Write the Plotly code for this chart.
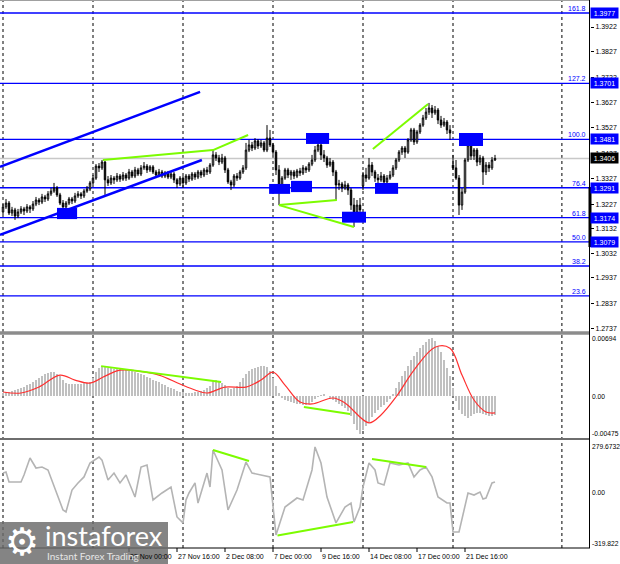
import plotly.graph_objects as go

W, H = 620, 564
PLOT_RIGHT = 590

# ---------------- data ----------------
BAR_INDEX = list(range(165))
OPEN = [1.3196,1.3216,1.3231,1.3192,1.3204,1.3180,1.3196,1.3208,1.3200,1.3216,
        1.3208,1.3227,1.3243,1.3235,1.3255,1.3247,1.3267,1.3278,1.3290,1.3263,
        1.3231,1.3216,1.3231,1.3247,1.3239,1.3259,1.3267,1.3259,1.3278,1.3286,
        1.3310,1.3329,1.3376,1.3369,1.3392,1.3322,1.3310,1.3329,1.3322,1.3337,
        1.3325,1.3341,1.3329,1.3353,1.3337,1.3361,1.3345,1.3369,1.3376,1.3361,
        1.3373,1.3353,1.3341,1.3353,1.3337,1.3349,1.3333,1.3345,1.3322,1.3306,
        1.3329,1.3310,1.3337,1.3325,1.3345,1.3333,1.3353,1.3341,1.3361,1.3353,
        1.3380,1.3420,1.3408,1.3392,1.3408,1.3361,1.3314,1.3302,1.3337,1.3329,
        1.3353,1.3369,1.3439,1.3459,1.3447,1.3475,1.3455,1.3467,1.3439,1.3486,
        1.3459,1.3431,1.3361,1.3298,1.3329,1.3361,1.3341,1.3353,1.3337,1.3357,
        1.3349,1.3369,1.3361,1.3384,1.3400,1.3439,1.3459,1.3420,1.3408,1.3380,
        1.3392,1.3353,1.3302,1.3306,1.3290,1.3302,1.3282,1.3223,1.3196,1.3223,
        1.3298,1.3341,1.3329,1.3380,1.3353,1.3329,1.3322,1.3337,1.3314,1.3329,
        1.3341,1.3369,1.3400,1.3431,1.3447,1.3431,1.3479,1.3518,1.3471,1.3510,
        1.3537,1.3565,1.3588,1.3604,1.3585,1.3596,1.3557,1.3537,1.3549,1.3518,
        1.3380,1.3369,1.3329,1.3223,1.3274,1.3400,1.3459,1.3416,1.3439,1.3392,
        1.3408,1.3353,1.3380,1.3369,1.3400]
HIGH = [1.3227,1.3247,1.3239,1.3216,1.3212,1.3208,1.3219,1.3216,1.3227,1.3223,
        1.3239,1.3255,1.3251,1.3267,1.3263,1.3278,1.3290,1.3310,1.3298,1.3271,
        1.3243,1.3239,1.3255,1.3255,1.3271,1.3278,1.3274,1.3286,1.3298,1.3318,
        1.3341,1.3384,1.3388,1.3400,1.3396,1.3337,1.3341,1.3337,1.3349,1.3345,
        1.3353,1.3349,1.3365,1.3361,1.3373,1.3369,1.3380,1.3392,1.3384,1.3380,
        1.3380,1.3361,1.3365,1.3361,1.3357,1.3357,1.3353,1.3353,1.3329,1.3337,
        1.3337,1.3345,1.3345,1.3353,1.3353,1.3361,1.3361,1.3369,1.3373,1.3388,
        1.3439,1.3431,1.3420,1.3424,1.3416,1.3369,1.3322,1.3345,1.3349,1.3361,
        1.3380,1.3467,1.3479,1.3471,1.3486,1.3482,1.3479,1.3475,1.3537,1.3518,
        1.3467,1.3439,1.3380,1.3337,1.3369,1.3369,1.3361,1.3361,1.3365,1.3369,
        1.3380,1.3376,1.3392,1.3420,1.3455,1.3479,1.3467,1.3439,1.3416,1.3408,
        1.3400,1.3361,1.3322,1.3314,1.3318,1.3310,1.3290,1.3251,1.3243,1.3251,
        1.3353,1.3369,1.3408,1.3392,1.3361,1.3345,1.3353,1.3345,1.3341,1.3357,
        1.3380,1.3408,1.3439,1.3455,1.3455,1.3486,1.3526,1.3526,1.3518,1.3545,
        1.3577,1.3604,1.3624,1.3616,1.3612,1.3604,1.3573,1.3565,1.3557,1.3537,
        1.3420,1.3400,1.3341,1.3290,1.3408,1.3498,1.3479,1.3447,1.3447,1.3420,
        1.3416,1.3392,1.3392,1.3412,1.3420]
LOW = [1.3184,1.3208,1.3184,1.3180,1.3165,1.3172,1.3188,1.3184,1.3192,1.3192,
       1.3200,1.3219,1.3223,1.3227,1.3235,1.3239,1.3259,1.3271,1.3255,1.3223,
       1.3204,1.3208,1.3223,1.3227,1.3231,1.3251,1.3247,1.3251,1.3271,1.3278,
       1.3302,1.3322,1.3353,1.3361,1.3263,1.3298,1.3302,1.3306,1.3314,1.3314,
       1.3318,1.3318,1.3322,1.3329,1.3329,1.3337,1.3337,1.3361,1.3349,1.3353,
       1.3345,1.3329,1.3333,1.3329,1.3329,1.3325,1.3325,1.3310,1.3290,1.3298,
       1.3290,1.3302,1.3314,1.3318,1.3322,1.3325,1.3329,1.3333,1.3341,1.3345,
       1.3373,1.3396,1.3380,1.3384,1.3349,1.3306,1.3282,1.3294,1.3318,1.3322,
       1.3345,1.3361,1.3431,1.3435,1.3439,1.3443,1.3447,1.3431,1.3431,1.3451,
       1.3420,1.3341,1.3223,1.3282,1.3322,1.3329,1.3322,1.3325,1.3329,1.3337,
       1.3341,1.3349,1.3353,1.3376,1.3392,1.3431,1.3400,1.3392,1.3369,1.3373,
       1.3337,1.3243,1.3282,1.3274,1.3282,1.3263,1.3204,1.3137,1.3157,1.3188,
       1.3282,1.3314,1.3322,1.3337,1.3314,1.3306,1.3314,1.3271,1.3302,1.3322,
       1.3333,1.3361,1.3392,1.3420,1.3408,1.3424,1.3471,1.3459,1.3463,1.3502,
       1.3530,1.3557,1.3577,1.3565,1.3577,1.3541,1.3526,1.3530,1.3502,1.3479,
       1.3361,1.3322,1.3184,1.3204,1.3267,1.3392,1.3400,1.3400,1.3376,1.3380,
       1.3302,1.3341,1.3353,1.3361,1.3396]
CLOSE = [1.3216,1.3231,1.3192,1.3204,1.3180,1.3196,1.3208,1.3200,1.3216,1.3208,
         1.3227,1.3243,1.3235,1.3255,1.3247,1.3267,1.3278,1.3290,1.3263,1.3231,
         1.3216,1.3231,1.3247,1.3239,1.3259,1.3267,1.3259,1.3278,1.3286,1.3310,
         1.3329,1.3376,1.3369,1.3392,1.3322,1.3310,1.3329,1.3322,1.3337,1.3325,
         1.3341,1.3329,1.3353,1.3337,1.3361,1.3345,1.3369,1.3376,1.3361,1.3373,
         1.3353,1.3341,1.3353,1.3337,1.3349,1.3333,1.3345,1.3322,1.3306,1.3329,
         1.3310,1.3337,1.3325,1.3345,1.3333,1.3353,1.3341,1.3361,1.3353,1.3380,
         1.3420,1.3408,1.3392,1.3408,1.3361,1.3314,1.3302,1.3337,1.3329,1.3353,
         1.3369,1.3439,1.3459,1.3447,1.3475,1.3455,1.3467,1.3439,1.3486,1.3459,
         1.3431,1.3361,1.3298,1.3329,1.3361,1.3341,1.3353,1.3337,1.3357,1.3349,
         1.3369,1.3361,1.3384,1.3400,1.3439,1.3459,1.3420,1.3408,1.3380,1.3392,
         1.3353,1.3302,1.3306,1.3290,1.3302,1.3282,1.3223,1.3196,1.3223,1.3204,
         1.3341,1.3329,1.3380,1.3353,1.3329,1.3322,1.3337,1.3314,1.3329,1.3341,
         1.3369,1.3400,1.3431,1.3447,1.3431,1.3479,1.3518,1.3471,1.3510,1.3537,
         1.3565,1.3588,1.3604,1.3585,1.3596,1.3557,1.3537,1.3549,1.3518,1.3506,
         1.3369,1.3329,1.3223,1.3274,1.3400,1.3459,1.3416,1.3439,1.3392,1.3408,
         1.3353,1.3380,1.3369,1.3400,1.3406]

MACD_HIST = [0.00036,0.00048,0.00048,0.0006,0.00072,0.00084,0.00096,0.00108,0.00132,0.00144,
             0.00168,0.00192,0.00216,0.0024,0.00264,0.00276,0.00288,0.00288,0.00264,0.0024,
             0.00192,0.00156,0.00144,0.00144,0.00144,0.00144,0.00144,0.00156,0.00156,0.00168,
             0.00216,0.00288,0.00336,0.00348,0.00348,0.00336,0.00336,0.00324,0.00324,0.00324,
             0.00312,0.00312,0.003,0.003,0.00288,0.00276,0.00264,0.00252,0.00228,0.00216,
             0.00192,0.0018,0.00168,0.00144,0.00132,0.00108,0.00096,0.00084,0.0006,0.00048,
             0.00048,0.00036,0.00036,0.00036,0.00048,0.00048,0.0006,0.00072,0.00096,0.0012,
             0.0018,0.00192,0.00168,0.00156,0.00132,0.00096,0.00084,0.00096,0.0012,0.00168,
             0.00216,0.00264,0.003,0.00324,0.00336,0.00348,0.0036,0.0036,0.00348,0.003,
             0.00216,0.0012,0.00036,-0.00024,-0.00048,-0.0006,-0.00072,-0.00084,-0.00096,-0.00096,
             -0.00108,-0.00108,-0.00096,-0.00072,-0.00036,-0.00012,0.00012,0.00024,0.0,-0.00024,
             -0.00048,-0.00072,-0.00096,-0.0012,-0.00144,-0.0018,-0.0024,-0.00336,-0.00408,-0.00456,
             -0.00408,-0.0036,-0.00312,-0.00252,-0.00204,-0.00168,-0.00132,-0.00108,-0.00072,-0.00036,
             0.00024,0.00096,0.00168,0.0024,0.003,0.0036,0.00432,0.0048,0.00528,0.00576,
             0.00612,0.00648,0.00684,0.00694,0.0066,0.006,0.00528,0.00432,0.00336,0.0024,
             0.00096,-0.0006,-0.00168,-0.00216,-0.0024,-0.00264,-0.0024,-0.00216,-0.00204,-0.00204,
             -0.00216,-0.00228,-0.0024,-0.0024,-0.00228]

MACD_SIGNAL_BARS = [0, 6, 12, 19, 24, 29, 34, 39, 45, 52, 59, 64, 68, 74, 81, 86, 90, 94, 99,
                    103, 110, 114, 122, 126, 131, 137, 144, 149, 153, 157, 161, 164]
MACD_SIGNAL = [0.00048, 0.00036, 0.00108, 0.00252, 0.00192, 0.00156, 0.0024, 0.00312, 0.003,
               0.00252, 0.00144, 0.00072, 0.00036, 0.00108, 0.00108, 0.00192, 0.00288, 0.00132,
               -0.00072, -0.00096, -0.00024, -0.00084, -0.00324, -0.00228, -0.00012, 0.00312,
               0.00588, 0.00576, 0.00252, -0.00048, -0.00192, -0.00204]

CCI_BARS = [0, 1, 2, 6, 7, 9, 11, 13, 15, 20, 21, 23, 25, 27, 29, 32, 33, 35, 37, 39, 41, 44,
            46, 48, 50, 53, 56, 58, 60, 61, 62, 64, 65, 68, 69, 70, 73, 75, 78, 81, 83, 89, 91,
            94, 98, 100, 103, 104, 106, 108, 111, 114, 116, 117, 119, 120, 122, 124, 125, 127,
            129, 132, 135, 137, 139, 141, 143, 145, 148, 149, 150, 152, 155, 157, 159, 160,
            161, 163, 164]
CCI = [117, 123, 62, 62, 105, 210, 148, 154, 136, -111, -123, 12, 56, 93, 179, 216, 197, 74,
       117, 56, 105, -31, 154, 167, -49, -6, 31, -154, -191, -49, -6, 56, -68, 117, 31, 259,
       136, -111, 12, 185, 117, 93, -265, -93, -37, -49, 136, 278, 179, -31, -191, -93, -68,
       -185, -93, 31, 179, 136, 56, 43, 179, 167, 179, 93, 136, 154, 93, -31, -68, -68, -247,
       -247, -6, -19, 0, -43, -37, 56, 62]

PRICE_TICKS = [1.3922, 1.3827, 1.3722, 1.3627, 1.3527, 1.3427, 1.3327, 1.3227, 1.3132,
               1.3032, 1.2937, 1.2837, 1.2737]
FIB_LEVELS = ["161.8", "127.2", "100.0", "76.4", "61.8", "50.0", "38.2", "23.6"]
FIB_PRICES = [1.3977, 1.3701, 1.3481, 1.3291, 1.3174, 1.3079, 1.2984, 1.2867]
FIB_BOXED = [True, True, True, True, True, True, False, False]
CURRENT_PRICE = 1.3406

MACD_TICKS = [0.00694, 0.0, -0.00475]
MACD_TICK_TEXT = ["0.00694", "0.00", "-0.00475"]
CCI_TICKS = [279.6732, 0.0, -319.822]
CCI_TICK_TEXT = ["279.6732", "0.00", "-319.822"]

DATE_LABEL_BARS = [42, 58, 74, 90, 106, 122, 138, 154]
DATE_LABELS = ["25 Nov 00:00", "27 Nov 16:00", "2 Dec 08:00", "7 Dec 00:00", "9 Dec 16:00",
               "14 Dec 08:00", "17 Dec 00:00", "21 Dec 16:00"]
SEPARATOR_BARS = [0, 30, 60, 90, 120, 150, 186.3]

# chart drawings (bar index, price / indicator value)
CHANNEL_LINES = [(-1, 1.3373, 65.7, 1.3667), (-1, 1.3106, 66.3, 1.3400)]
GREEN_PRICE = [[(33.3, 1.3400), (70, 1.3439), (81.7, 1.3498)],
               [(92, 1.3223), (111.3, 1.3243)],
               [(92, 1.3223), (117, 1.3137)],
               [(123.3, 1.3443), (141.7, 1.3620)]]
GREEN_MACD = [[(32.7, 0.0036), (72.7, 0.00168)], [(100.3, -0.00132), (115.7, -0.00216)]]
GREEN_CCI = [[(70, 259), (82, 191)], [(91.5, -268), (116.7, -185)], [(123, 204), (141, 154)]]
BLUE_BOXES = [(18, 24.7, 1.3168, 1.3212), (101, 108.7, 1.3463, 1.3506),
              (88.7, 95.7, 1.3267, 1.3306), (96, 103, 1.3274, 1.3318),
              (113, 121, 1.3154, 1.3197), (124, 131.7, 1.3267, 1.3310),
              (152, 160, 1.3455, 1.3506)]

# ---------------- helpers (layout only) ----------------
def px_x(p):
    return p / W


def px_y(p):
    return 1 - p / H


FONT = "Liberation Sans"
BLUE = "#0000FF"
GREEN = "#7CFC00"

fig = go.Figure()

fig.add_trace(go.Candlestick(
    x=BAR_INDEX, open=OPEN, high=HIGH, low=LOW, close=CLOSE,
    increasing=dict(fillcolor="white", line=dict(color="black", width=1)),
    decreasing=dict(fillcolor="black", line=dict(color="black", width=1)),
    whiskerwidth=0, xaxis="x", yaxis="y", hoverinfo="skip"))

fig.add_trace(go.Bar(x=BAR_INDEX, y=MACD_HIST, xaxis="x", yaxis="y2", width=0.6,
                     marker=dict(color="#C0C0C0", line=dict(width=0)), hoverinfo="skip"))
fig.add_trace(go.Scatter(x=MACD_SIGNAL_BARS, y=MACD_SIGNAL, xaxis="x", yaxis="y2",
                         mode="lines", line=dict(color="#FF3030", width=1.2, shape="spline"),
                         hoverinfo="skip"))
fig.add_trace(go.Scatter(x=CCI_BARS, y=CCI, xaxis="x", yaxis="y3", mode="lines",
                         line=dict(color="#B4B4B4", width=1.6), hoverinfo="skip"))

shapes = []
# period separators
for k in SEPARATOR_BARS:
    shapes.append(dict(type="line", xref="x", yref="paper", x0=k, x1=k,
                       y0=px_y(548), y1=px_y(0), layer="below",
                       line=dict(color="black", width=1, dash="dot")))
# bid line
shapes.append(dict(type="line", xref="paper", yref="y", x0=0, x1=px_x(PLOT_RIGHT),
                   y0=CURRENT_PRICE, y1=CURRENT_PRICE, layer="below",
                   line=dict(color="#C8C8C8", width=1.5)))
# fibonacci levels
for p in FIB_PRICES:
    shapes.append(dict(type="line", xref="paper", yref="y", x0=0, x1=px_x(PLOT_RIGHT),
                       y0=p, y1=p, layer="below", line=dict(color=BLUE, width=1.3)))
# channel
for x0, y0, x1, y1 in CHANNEL_LINES:
    shapes.append(dict(type="line", xref="x", yref="y", x0=x0, y0=y0, x1=x1, y1=y1,
                       line=dict(color=BLUE, width=2.4)))
# boxes
for x0, x1, y0, y1 in BLUE_BOXES:
    shapes.append(dict(type="rect", xref="x", yref="y", x0=x0, x1=x1, y0=y0, y1=y1,
                       fillcolor=BLUE, line=dict(width=0)))
# green divergence lines
for yref, groups in (("y", GREEN_PRICE), ("y2", GREEN_MACD), ("y3", GREEN_CCI)):
    for pts in groups:
        for (a, b), (c, d) in zip(pts[:-1], pts[1:]):
            shapes.append(dict(type="line", xref="x", yref=yref, x0=a, y0=b, x1=c, y1=d,
                               line=dict(color=GREEN, width=2)))
# frames / separators
shapes.append(dict(type="line", xref="paper", yref="paper", x0=0, x1=px_x(PLOT_RIGHT),
                   y0=px_y(0.5), y1=px_y(0.5), line=dict(color="#A0A0A0", width=1)))
shapes.append(dict(type="line", xref="paper", yref="paper", x0=0, x1=px_x(PLOT_RIGHT),
                   y0=px_y(333), y1=px_y(333), line=dict(color="#8C8C8C", width=3.5)))
shapes.append(dict(type="line", xref="paper", yref="paper", x0=0, x1=px_x(PLOT_RIGHT),
                   y0=px_y(439), y1=px_y(439), line=dict(color="#6E6E6E", width=2)))
shapes.append(dict(type="line", xref="paper", yref="paper", x0=0, x1=px_x(PLOT_RIGHT),
                   y0=px_y(548), y1=px_y(548), line=dict(color="black", width=1)))
shapes.append(dict(type="line", xref="paper", yref="paper", x0=px_x(589.5), x1=px_x(589.5),
                   y0=px_y(548), y1=px_y(0), line=dict(color="black", width=1)))
shapes.append(dict(type="line", xref="paper", yref="paper", x0=px_x(590), x1=px_x(590),
                   y0=px_y(247), y1=px_y(187), line=dict(color="black", width=3)))
# date ticks
for k in DATE_LABEL_BARS:
    shapes.append(dict(type="line", xref="x", yref="paper", x0=k, x1=k,
                       y0=px_y(552), y1=px_y(548), line=dict(color="black", width=1)))
# logo background
shapes.append(dict(type="rect", xref="paper", yref="paper", x0=0, x1=px_x(168),
                   y0=0, y1=px_y(522), fillcolor="rgba(105,105,105,0.82)", line=dict(width=0)))

annotations = []
for lab, p, boxed in zip(FIB_LEVELS, FIB_PRICES, FIB_BOXED):
    annotations.append(dict(xref="paper", yref="y", x=px_x(588), y=p, xanchor="right",
                            yanchor="bottom", text=lab, showarrow=False, yshift=-1,
                            font=dict(family=FONT, size=7, color=BLUE)))
    if boxed:
        annotations.append(dict(xref="paper", yref="y", x=px_x(590), y=p, xanchor="left",
                                yanchor="middle", text=f"{p:.4f}", showarrow=False,
                                bgcolor=BLUE, width=25, height=8, borderpad=1,
                                font=dict(family=FONT, size=7, color="white")))
annotations.append(dict(xref="paper", yref="y", x=px_x(590), y=CURRENT_PRICE, xanchor="left",
                        yanchor="middle", text=f"{CURRENT_PRICE:.4f}", showarrow=False,
                        bgcolor="black", width=25, height=8, borderpad=1,
                        font=dict(family=FONT, size=7, color="white")))
# indicator-window scale labels
for yref, vals, texts, shifts in (("y2", MACD_TICKS, MACD_TICK_TEXT, (0, 0, 2)),
                                  ("y3", CCI_TICKS, CCI_TICK_TEXT, (0, 0, 0))):
    for v, t, s in zip(vals, texts, shifts):
        annotations.append(dict(xref="paper", yref=yref, x=px_x(591), y=v, xanchor="left",
                                yanchor="middle", text=t, showarrow=False, yshift=s,
                                borderpad=0,
                                font=dict(family=FONT, size=6.7, color="black")))
for k, lab in zip(DATE_LABEL_BARS, DATE_LABELS):
    annotations.append(dict(xref="x", yref="paper", x=k, y=px_y(556), xanchor="left",
                            yanchor="middle", text=lab, showarrow=False, xshift=-1,
                            font=dict(family=FONT, size=7, color="black")))
# logo text
annotations.append(dict(xref="paper", yref="paper", x=px_x(22), y=px_y(542), text="⚙",
                        showarrow=False, xanchor="center", yanchor="middle",
                        font=dict(family="DejaVu Sans", size=38, color="white")))
annotations.append(dict(xref="paper", yref="paper", x=px_x(43), y=px_y(535), text="instaforex",
                        showarrow=False, xanchor="left", yanchor="middle",
                        font=dict(family="Lato", size=27, color="white")))
annotations.append(dict(xref="paper", yref="paper", x=px_x(45), y=px_y(556),
                        text="Instant Forex Trading", showarrow=False, xanchor="left",
                        yanchor="middle", font=dict(family="Lato", size=10, color="#E6E6E6")))

axis_common = dict(side="right", anchor="x", showgrid=False, zeroline=False, showline=False,
                   ticks="outside", ticklen=3, tickcolor="black", tickwidth=1,
                   tickmode="array", fixedrange=True, automargin=False,
                   tickfont=dict(family=FONT, size=7, color="black"))
indicator_axis = dict(side="right", anchor="x", showgrid=False, zeroline=False,
                      showline=False, ticks="", showticklabels=False, fixedrange=True,
                      automargin=False)

fig.update_layout(
    width=W, height=H, autosize=False,
    margin=dict(l=0, r=0, t=0, b=0, pad=0),
    paper_bgcolor="white", plot_bgcolor="white",
    showlegend=False, bargap=0,
    xaxis=dict(domain=[0, px_x(PLOT_RIGHT)], range=[-1, (PLOT_RIGHT - 3) / 3],
               visible=False, fixedrange=True, rangeslider=dict(visible=False)),
    yaxis=dict(domain=[px_y(331), 1], range=[1.27288, 1.4028], tickvals=PRICE_TICKS,
               ticktext=[f"{v:.4f}" for v in PRICE_TICKS], **axis_common),
    yaxis2=dict(domain=[px_y(438), px_y(334)], range=[-0.00506, 0.00747], **indicator_axis),
    yaxis3=dict(domain=[px_y(548), px_y(440)], range=[-345.7, 321], **indicator_axis),
    shapes=shapes, annotations=annotations,
)

fig.write_html("out.html", config={"displayModeBar": False, "staticPlot": True},
               post_script="document.body.style.margin='0';document.body.style.overflow='hidden';")
